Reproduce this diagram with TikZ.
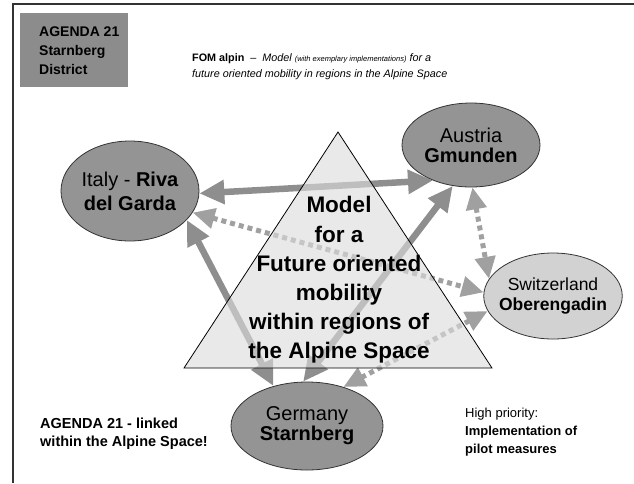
\documentclass[tikz,border=0pt]{standalone}
\usepackage{fontspec}
\setmainfont{Liberation Sans}
\usetikzlibrary{arrows.meta,shapes.geometric}
\definecolor{framec}{HTML}{333333}
\definecolor{boxgray}{HTML}{8C8C8C}
\definecolor{ellgray}{HTML}{949494}
\definecolor{swissgray}{HTML}{D2D2D2}
\definecolor{trifill}{HTML}{DCDCDC}
\definecolor{arrgray}{HTML}{8E8E8E}
\definecolor{dotgray}{HTML}{A0A0A0}
\pgfdeclarelayer{arrowlayer}
\pgfdeclarelayer{trilayer}
\pgfsetlayers{arrowlayer,trilayer,main}
\begin{document}
\begin{tikzpicture}[x=1pt,y=-1pt,
  region/.style={ellipse,draw=black!80,line width=0.8pt,inner xsep=-5pt,inner ysep=0pt,align=center},
  solidlink/.style={draw=arrgray,line width=6.5pt,{Triangle[length=25pt,width=23pt]}-{Triangle[length=25pt,width=23pt]}},
  dotlink/.style={draw=dotgray,line width=5pt,dash pattern=on 5pt off 4pt,{Triangle[length=22pt,width=20pt]}-{Triangle[length=22pt,width=20pt]}},
  plain/.style={inner sep=0pt,align=left}
]
\useasboundingbox (0,0) rectangle (634,483);
% frame
\coordinate (ftl) at (13,4);
\coordinate (ftr) at (634,4);
\coordinate (fbl) at (13,483);
\draw[framec,line width=1.4pt] (ftr) -- (ftl) -- (fbl);

% header box
\node[fill=boxgray,anchor=north west,minimum width=108pt,minimum height=74pt,inner sep=0pt] (agendabox) at (20,13) {};
\node[plain,anchor=west,font=\bfseries\fontsize{14}{19}\selectfont] (agendatxt) at (39,51) {AGENDA 21\\Starnberg\\District};

% title
\node[plain,anchor=west,font=\fontsize{10.8}{16}\selectfont] (title) at (192,67)
 {\textbf{FOM alpin} \ – \ \textit{Model {\fontsize{7.5}{9}\selectfont(with exemplary implementations)} for a}\\
  \textit{future oriented mobility in regions in the Alpine Space}};

% regions
\node[region,fill=ellgray,minimum width=138pt,minimum height=100pt,font=\fontsize{20}{24}\selectfont] (italy) at (130,191) {Italy - \textbf{Riva}\\\textbf{del Garda}};
\node[region,fill=ellgray,minimum width=138pt,minimum height=84pt,font=\fontsize{20}{20}\selectfont] (austria) at (471,145) {Austria\\\textbf{Gmunden}};
\node[region,fill=swissgray,minimum width=138pt,minimum height=86pt,font=\fontsize{17.5}{20}\selectfont] (swiss) at (553,296) {Switzerland\\\textbf{Oberengadin}};
\node[region,fill=ellgray,minimum width=152pt,minimum height=88pt,font=\fontsize{20}{20}\selectfont] (germany) at (307,426) {Germany\\\textbf{Starnberg}};

% triangle
\coordinate (apex) at (338,132);
\coordinate (bl) at (184,368);
\coordinate (br) at (492,368);
\begin{pgfonlayer}{trilayer}
\draw[fill=trifill,fill opacity=0.62,draw=black,line width=0.8pt] (apex) -- (br) -- (bl) -- cycle;
\end{pgfonlayer}
\node[align=center,inner sep=0pt,font=\bfseries\fontsize{22.5}{29.2}\selectfont] (model) at (339,280)
 {Model\\for a\\Future oriented\\mobility\\within regions of\\the Alpine Space};

% connectors
\begin{pgfonlayer}{arrowlayer}
\draw[solidlink] (italy.-2) -- (austria.223);
\draw[solidlink] (italy.-27) -- (germany.130);
\draw[solidlink] (austria.246) -- (germany.95);
\draw[dotlink] (italy.-19) -- (swiss.177);
\draw[dotlink] (austria.272) -- (swiss.165);
\draw[dotlink] (swiss.193) -- (germany.47);
\end{pgfonlayer}

% bottom texts
\node[plain,anchor=west,font=\bfseries\fontsize{14.5}{18}\selectfont] (linked) at (40,434) {AGENDA 21 - linked\\within the Alpine Space!};
\node[plain,anchor=west,font=\fontsize{13}{18}\selectfont] (prio) at (465,432) {High priority:\\\textbf{Implementation of}\\\textbf{pilot measures}};
\end{tikzpicture}
\end{document}
